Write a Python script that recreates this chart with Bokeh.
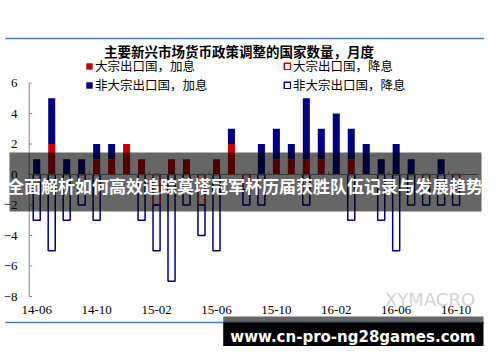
import numpy as np
from bokeh.plotting import figure
from bokeh.models import (ColumnDataSource, FixedTicker, Legend, LegendItem,
                          Label, BoxAnnotation, Range1d)
from bokeh.embed import file_html
from bokeh.resources import INLINE

# ---------------- data ----------------
months = ["14-06", "14-07", "14-08", "14-09", "14-10", "14-11", "14-12",
          "15-01", "15-02", "15-03", "15-04", "15-05", "15-06", "15-07",
          "15-08", "15-09", "15-10", "15-11", "15-12", "16-01", "16-02",
          "16-03", "16-04", "16-05", "16-06", "16-07", "16-08", "16-09",
          "16-10", "16-11"]
big_hike    = [0, 2, 0, 0, 1, 1, 2, 1, 0, 1, 1, 0, 1, 2, 0, 0, 1, 1, 1, 1, 0, 1, 0, 0, 0, 0, 0, 0, 0, 0]
nonbig_hike = [1, 3, 1, 1, 1, 1, 0, 0, 0, 0, 0, 0, 0, 1, 0, 2, 2, 1, 4, 2, 4, 2, 2, 1, 2, 1, 0, 1, 0, 0]
big_cut     = [0, 0, 0, 0, 0, 0, 0, 0, -2, 0, 0, -2, 0, 0, -1, 0, 0, 0, 0, 0, 0, 0, 0, 0, 0, 0, -1, 0, -1, 0]
nonbig_cut  = [-3, -5, -3, -2, -3, 0, 0, -3, -3, -7, -2, -2, -5, 0, -1, -2, 0, 0, -2, 0, 0, -3, 0, -3, -5, -2, -1, -2, -1, 0]
y_ticks = [-8, -6, -4, -2, 0, 2, 4, 6]
label_every = 4

series_names = ["大宗出口国，加息", "大宗出口国，降息", "非大宗出口国，加息", "非大宗出口国，降息"]
title_text = "主要新兴市场货币政策调整的国家数量，月度"
banner_text = "全面解析如何高效追踪莫塔冠军杯历届获胜队伍记录与发展趋势"
site_text = "www.cn-pro-ng28games.com"
mark_text = "XYMACRO"

RED = "#C80000"
NAVY = "#000080"
GREY = "#868686"

# ---------------- layout helpers (picture pixels -> data) ----------------
W_PX, H_PX = 484, 346
X_OFF = 8                      # page margin (horizontal)
AX_PX = 32                     # picture column of the value axis
XK = 454 / len(months)         # px per category
YK = 213.5 / 14                # px per unit
Y6 = 82.5                      # picture row of the "6" tick


def dx(px):
    return -0.5 + (px - AX_PX) / XK


def dy(py):
    return 6 - (py - Y6) / YK


x = np.arange(len(months))
bh = np.array(big_hike, dtype=float)
nh = np.array(nonbig_hike, dtype=float)
bc = np.array(big_cut, dtype=float)
nc = np.array(nonbig_cut, dtype=float)
yt = np.array(y_ticks, dtype=float)


def src(bottom, top):
    m = top != bottom
    return ColumnDataSource(dict(x=x[m], bottom=bottom[m], top=top[m]))


p = figure(width=W_PX, height=H_PX, output_backend="svg", toolbar_location=None,
           x_range=Range1d(dx(X_OFF), dx(X_OFF + W_PX)),
           y_range=Range1d(dy(H_PX), dy(0)),
           min_border_left=0, min_border_right=0, min_border_top=0,
           min_border_bottom=0)
p.xgrid.visible = False
p.ygrid.visible = False
p.outline_line_color = None
p.background_fill_color = "white"
p.border_fill_color = "white"

W = 0.47
r1 = p.vbar(x="x", bottom="bottom", top="top", width=W, source=src(0 * bh, bh),
            fill_color=RED, line_color=None)
r3 = p.vbar(x="x", bottom="bottom", top="top", width=W, source=src(bh, bh + nh),
            fill_color=NAVY, line_color=None)
r2 = p.vbar(x="x", bottom="bottom", top="top", width=W, source=src(0 * bc, bc),
            fill_color="white", line_color=RED, line_width=1.5)
r4 = p.vbar(x="x", bottom="bottom", top="top", width=W, source=src(bc, bc + nc),
            fill_color="white", line_color=NAVY, line_width=1.5)

# category axis line at zero + boundary ticks
x_lo, x_hi = x[0] - 0.5, x[-1] + 0.5
p.segment(x0=[x_lo], y0=[0], x1=[x_hi], y1=[0], line_color=GREY, line_width=1)
bx = x[::label_every] - 0.5
p.segment(x0=bx, y0=0 * bx, x1=bx, y1=0 * bx + 3 / YK, line_color=GREY, line_width=1)

# value axis line + inward ticks
p.segment(x0=[x_lo], y0=[yt.min()], x1=[x_lo], y1=[yt.max()], line_color=GREY, line_width=1)
p.segment(x0=0 * yt + x_lo, y0=yt, x1=0 * yt + x_lo + 3 / XK, y1=yt,
          line_color=GREY, line_width=1)

# axes (labels only; drawn inside the canvas)
xa = p.xaxis[0]
xa.ticker = FixedTicker(ticks=[int(i) for i in x[::label_every]])
xa.major_label_overrides = {int(i): months[i] for i in x[::label_every]}
xa.axis_line_color = None
xa.major_tick_line_color = None
xa.minor_tick_line_color = None
xa.major_tick_in = 0
xa.major_tick_out = 0
xa.major_label_standoff = -41
xa.major_label_text_font = "Liberation Serif"
xa.major_label_text_font_size = "13px"
xa.major_label_text_color = "black"

ya = p.yaxis[0]
ya.ticker = FixedTicker(ticks=y_ticks)
ya.axis_line_color = None
ya.major_tick_line_color = None
ya.minor_tick_line_color = None
ya.major_tick_in = 0
ya.major_tick_out = 0
ya.major_label_standoff = -12
ya.major_label_text_font = "Liberation Serif"
ya.major_label_text_font_size = "13px"
ya.major_label_text_color = "black"

# chart border (picture box 0..499 x 38..322)
p.add_layout(BoxAnnotation(left=dx(0), right=dx(499), top=dy(38), bottom=dy(322),
                           fill_alpha=0, line_color="#4A7EBB", line_alpha=1.0,
                           line_width=1.5))

# legends (two rows)
rows = [[(series_names[0], r1), (series_names[1], r2)],
        [(series_names[2], r3), (series_names[3], r4)]]
ROW_H = 18
for row, cy in zip(rows, (66, 84.5)):
    lg = Legend(items=[LegendItem(label=n, renderers=[r]) for n, r in row],
                orientation="horizontal",
                location=(88 - X_OFF, int(round(H_PX - (cy + ROW_H / 2)))))
    lg.label_text_font = "Noto Sans CJK SC"
    lg.label_text_font_size = "12.5px"
    lg.label_text_color = "black"
    lg.glyph_width = 8
    lg.glyph_height = 8
    lg.label_standoff = 2
    lg.spacing = 0
    lg.label_width = 188
    lg.label_height = ROW_H
    lg.padding = 0
    lg.margin = 0
    lg.border_line_color = None
    lg.background_fill_alpha = 0
    p.add_layout(lg, "center")

# title
p.add_layout(Label(x=dx(244), y=dy(50), text=title_text, text_align="center",
                   text_baseline="middle", text_font="Noto Sans CJK SC",
                   text_font_style="bold", text_font_size="13.5px", text_color="black"))

# watermark
p.add_layout(Label(x=dx(437), y=dy(298.5), text=mark_text, text_align="center",
                   text_baseline="middle", text_font="DejaVu Sans",
                   text_font_size="18px", text_color="#D4D4D4"))

# overlay banners
p.add_layout(BoxAnnotation(left=dx(12), right=dx(489), top=dy(152), bottom=dy(211),
                           fill_color="black", fill_alpha=0.6, line_color=None))
p.add_layout(Label(x=dx(250), y=dy(185), text=banner_text, text_align="center",
                   text_baseline="middle", text_font="Noto Sans CJK SC",
                   text_font_style="bold", text_font_size="17px", text_color="white"))

p.add_layout(BoxAnnotation(left=dx(228), right=dx(491), top=dy(316), bottom=dy(322),
                           fill_color="black", fill_alpha=0.6, line_color=None))
p.add_layout(BoxAnnotation(left=dx(228), right=dx(491), top=dy(322), bottom=dy(353),
                           fill_color="black", fill_alpha=1.0, line_color=None))
p.add_layout(Label(x=dx(359), y=dy(336), text=site_text, text_align="center",
                   text_baseline="middle", text_font="DejaVu Sans",
                   text_font_style="bold", text_font_size="15px", text_color="white"))

open("out.html", "w").write(file_html(p, INLINE))
